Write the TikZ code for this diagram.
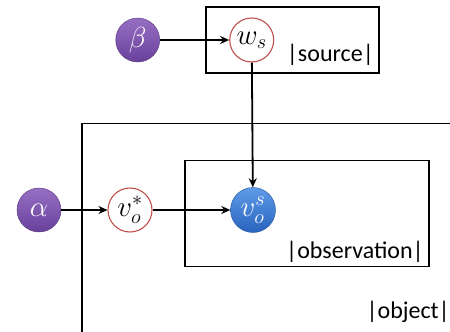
\RequirePackage{fix-cm}
\documentclass[tikz,border=0pt]{standalone}
\usepackage{fontspec}
\setmainfont{Carlito}
\usetikzlibrary{arrows.meta}
\definecolor{purp}{RGB}{105,65,155}
\definecolor{purpL}{RGB}{150,110,195}
\definecolor{blu}{RGB}{40,100,190}
\definecolor{bluL}{RGB}{95,155,230}
\definecolor{redc}{RGB}{192,80,77}
\tikzset{
  hyper/.style={circle, minimum size=44pt, inner sep=0pt, shade, top color=purpL, bottom color=purp, draw=purp!80!black, line width=0.4pt, text=white, font=\fontsize{29}{32}\selectfont},
  latent/.style={circle, minimum size=44pt, inner sep=0pt, fill=white, draw=redc, line width=1.1pt, font=\fontsize{29}{32}\selectfont},
  observed/.style={circle, minimum size=45pt, inner sep=0pt, shade, top color=bluL, bottom color=blu, draw=blu!80!black, line width=0.4pt, text=white, font=\fontsize{29}{32}\selectfont},
  plate/.style={draw=black, line width=1.3pt},
  platelabel/.style={anchor=east, inner sep=0pt, font=\fontsize{24}{28}\selectfont},
  edge/.style={-{Stealth[length=9pt,width=8pt]}, line width=1.8pt}
}
\begin{document}
\begin{tikzpicture}[x=1pt,y=-1pt]
\useasboundingbox (0,0) rectangle (450,332);
% plates
\draw[plate] (206,7) rectangle (379,73);
\draw[plate] (82,332) -- (82,123.3) -- (450,123.3);
\draw[plate] (185,160.7) rectangle (429,266.7);
\node[platelabel] (lsource) at (374,55) {|source|};
\node[platelabel] (lobs) at (424,252) {|observation|};
\node[platelabel] (lobj) at (450,312) {|object|};
% nodes
\node[hyper] (beta) at (137.7,40) {$\beta$};
\node[latent] (ws) at (251.7,40) {$w_s$};
\node[hyper] (alpha) at (39,210) {$\alpha$};
\node[latent] (vstar) at (130,210) {$v_o^*$};
\node[observed] (vs) at (253,210) {$v_o^s$};
% edges
\draw[edge] (beta) -- (ws);
\draw[edge] (ws) -- (vs);
\draw[edge] (alpha) -- (vstar);
\draw[edge] (vstar) -- (vs);
\end{tikzpicture}
\end{document}
